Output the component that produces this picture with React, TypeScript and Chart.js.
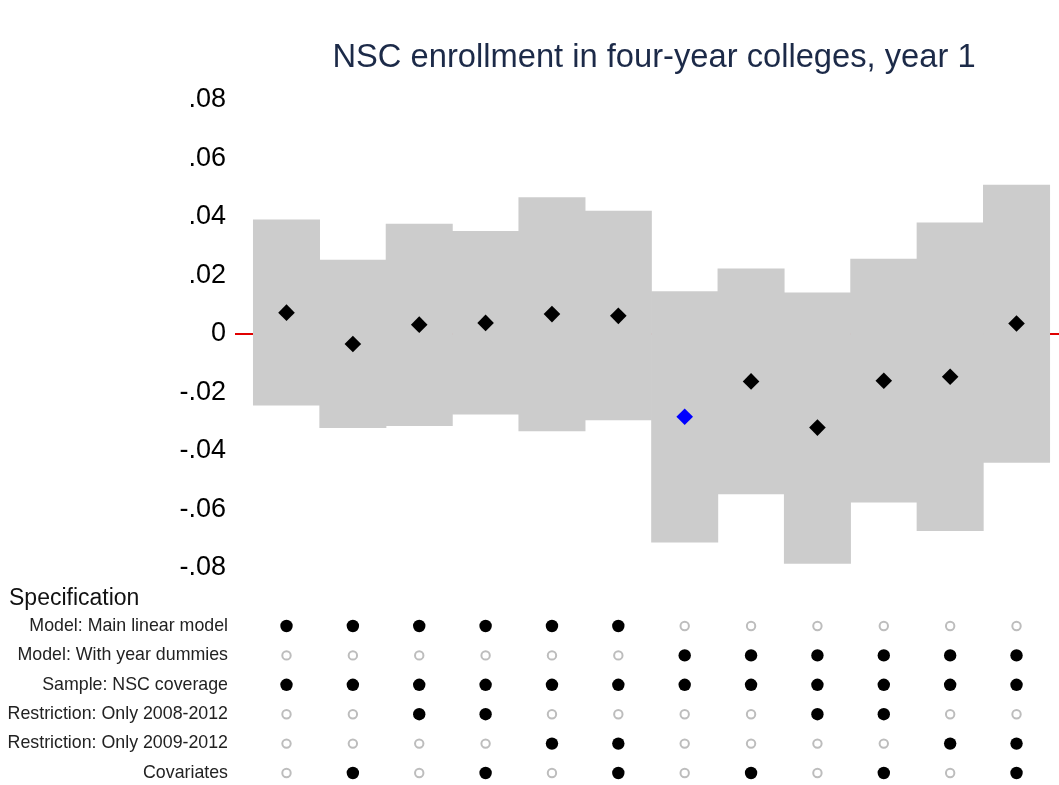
import React, { useEffect, useRef } from "react";
import { Chart, registerables } from "chart.js";

Chart.register(...registerables);

const TITLE = "NSC enrollment in four-year colleges, year 1";
const SPEC_TITLE = "Specification";

const SPEC_IDS = [1, 2, 3, 4, 5, 6, 7, 8, 9, 10, 11, 12];
const ESTIMATES = [0.0073, -0.0034, 0.0032, 0.0038, 0.0068, 0.0062, -0.0283, -0.0162, -0.032, -0.016, -0.0146, 0.0036];
const CI_LOW = [-0.0243, -0.032, -0.0313, -0.0274, -0.0331, -0.0294, -0.0712, -0.0547, -0.0784, -0.0575, -0.0672, -0.0439];
const CI_HIGH = [0.039, 0.0253, 0.0376, 0.0351, 0.0466, 0.042, 0.0145, 0.0223, 0.0141, 0.0256, 0.038, 0.0509];
const HIGHLIGHT_ID = 7;

const Y_TICKS = [-0.08, -0.06, -0.04, -0.02, 0, 0.02, 0.04, 0.06, 0.08];
const Y_TICK_LABELS = ["-.08", "-.06", "-.04", "-.02", "0", ".02", ".04", ".06", ".08"];

const SPEC_LABELS = [
  "Model: Main linear model",
  "Model: With year dummies",
  "Sample: NSC coverage",
  "Restriction: Only 2008-2012",
  "Restriction: Only 2009-2012",
  "Covariates",
];
const SPEC_MAIN = [1, 1, 1, 1, 1, 1, 0, 0, 0, 0, 0, 0];
const SPEC_DUMMIES = [0, 0, 0, 0, 0, 0, 1, 1, 1, 1, 1, 1];
const SPEC_NSC = [1, 1, 1, 1, 1, 1, 1, 1, 1, 1, 1, 1];
const SPEC_0812 = [0, 0, 1, 1, 0, 0, 0, 0, 1, 1, 0, 0];
const SPEC_0912 = [0, 0, 0, 0, 1, 1, 0, 0, 0, 0, 1, 1];
const SPEC_COV = [0, 1, 0, 1, 0, 1, 0, 1, 0, 1, 0, 1];
const SPEC_ROWS = [SPEC_MAIN, SPEC_DUMMIES, SPEC_NSC, SPEC_0812, SPEC_0912, SPEC_COV];

const X_MIN = 0.224;
const X_MAX = 12.64;
const FONT = "Arial, 'Liberation Sans', sans-serif";
const AXIS_W = 235;

export default function App() {
  const topRef = useRef<HTMLCanvasElement | null>(null);
  const botRef = useRef<HTMLCanvasElement | null>(null);

  useEffect(() => {
    const titlePlugin = {
      id: "titleText",
      afterDraw(chart: any) {
        const ctx = chart.ctx;
        const a = chart.chartArea;
        ctx.save();
        ctx.font = `32.7px ${FONT}`;
        ctx.fillStyle = "#1c2a48";
        ctx.textAlign = "center";
        ctx.textBaseline = "alphabetic";
        ctx.fillText(TITLE, (a.left + a.right) / 2 + 7, 67);
        ctx.restore();
      },
    };

    const top = new Chart(topRef.current as HTMLCanvasElement, {
      type: "bar",
      data: {
        datasets: [
          {
            type: "line",
            data: [
              { x: X_MIN, y: 0 },
              { x: X_MAX, y: 0 },
            ],
            borderColor: "#e00000",
            borderWidth: 2,
            pointRadius: 0,
            order: 3,
          } as any,
          {
            type: "bar",
            data: SPEC_IDS.map((id, i) => ({ x: id, y: [CI_LOW[i], CI_HIGH[i]] })),
            backgroundColor: "#cccccc",
            borderWidth: 0,
            categoryPercentage: 1,
            barPercentage: 1,
            order: 2,
          } as any,
          {
            type: "scatter",
            data: SPEC_IDS.map((id, i) => ({ x: id, y: ESTIMATES[i] })),
            pointStyle: "rectRot",
            pointRadius: 8.3,
            borderWidth: 0,
            backgroundColor: SPEC_IDS.map((id) => (id === HIGHLIGHT_ID ? "#0000ff" : "#000000")),
            pointBackgroundColor: SPEC_IDS.map((id) => (id === HIGHLIGHT_ID ? "#0000ff" : "#000000")),
            order: 1,
            clip: false,
          } as any,
        ],
      },
      options: {
        responsive: false,
        animation: false,
        layout: { autoPadding: false, padding: { top: 100, bottom: 32, left: 0, right: 0 } },
        plugins: { legend: { display: false }, tooltip: { enabled: false }, title: { display: false } },
        scales: {
          x: { type: "linear", min: X_MIN, max: X_MAX, display: false, offset: false },
          y: {
            type: "linear",
            min: -0.08,
            max: 0.08,
            afterFit: (s: any) => {
              s.width = AXIS_W;
            },
            afterBuildTicks: (s: any) => {
              s.ticks = Y_TICKS.map((v) => ({ value: v }));
            },
            ticks: {
              font: { size: 27, family: FONT },
              color: "#000000",
              padding: 9,
              callback: (v: any) => {
                const idx = Y_TICKS.findIndex((t) => Math.abs(t - Number(v)) < 1e-9);
                return idx >= 0 ? Y_TICK_LABELS[idx] : "";
              },
            },
            grid: { display: false, drawTicks: false },
            border: { display: false },
          },
        },
      } as any,
      plugins: [titlePlugin],
    });

    const specTitlePlugin = {
      id: "specTitle",
      afterDraw(chart: any) {
        const ctx = chart.ctx;
        ctx.save();
        ctx.font = `23px ${FONT}`;
        ctx.fillStyle = "#111111";
        ctx.textAlign = "left";
        ctx.textBaseline = "alphabetic";
        ctx.fillText(SPEC_TITLE, 9, 30);
        ctx.restore();
      },
    };

    const filled: any[] = [];
    const hollow: any[] = [];
    SPEC_ROWS.forEach((row, r) => {
      row.forEach((on, c) => {
        const pt = { x: SPEC_IDS[c], y: SPEC_LABELS[r] };
        if (on) filled.push(pt);
        else hollow.push(pt);
      });
    });

    const bot = new Chart(botRef.current as HTMLCanvasElement, {
      type: "scatter",
      data: {
        datasets: [
          {
            data: filled,
            pointRadius: 6.2,
            pointStyle: "circle",
            backgroundColor: "#000000",
            borderWidth: 0,
            clip: false,
          } as any,
          {
            data: hollow,
            pointRadius: 4.2,
            pointStyle: "circle",
            backgroundColor: "rgba(255,255,255,0)",
            borderColor: "#bdbdbd",
            borderWidth: 2,
            clip: false,
          } as any,
        ],
      },
      options: {
        responsive: false,
        animation: false,
        layout: { autoPadding: false, padding: { top: 51, bottom: 37, left: 0, right: 0 } },
        plugins: { legend: { display: false }, tooltip: { enabled: false }, title: { display: false } },
        scales: {
          x: { type: "linear", min: X_MIN, max: X_MAX, display: false, offset: false },
          y: {
            type: "category",
            labels: SPEC_LABELS,
            offset: false,
            afterFit: (s: any) => {
              s.width = AXIS_W;
            },
            ticks: {
              font: { size: 17.8, family: FONT },
              color: "#222222",
              padding: 7,
              autoSkip: false,
            },
            grid: { display: false, drawTicks: false },
            border: { display: false },
          },
        },
      } as any,
      plugins: [specTitlePlugin],
    });

    return () => {
      top.destroy();
      bot.destroy();
    };
  }, []);

  return (
    <div
      style={{
        position: "fixed",
        left: 0,
        top: 0,
        width: 1059,
        height: 785,
        background: "#ffffff",
        overflow: "hidden",
      }}
    >
      <canvas ref={topRef} width={1059} height={600} style={{ position: "absolute", left: 0, top: 0 }} />
      <canvas ref={botRef} width={1059} height={235} style={{ position: "absolute", left: 0, top: 575 }} />
    </div>
  );
}
